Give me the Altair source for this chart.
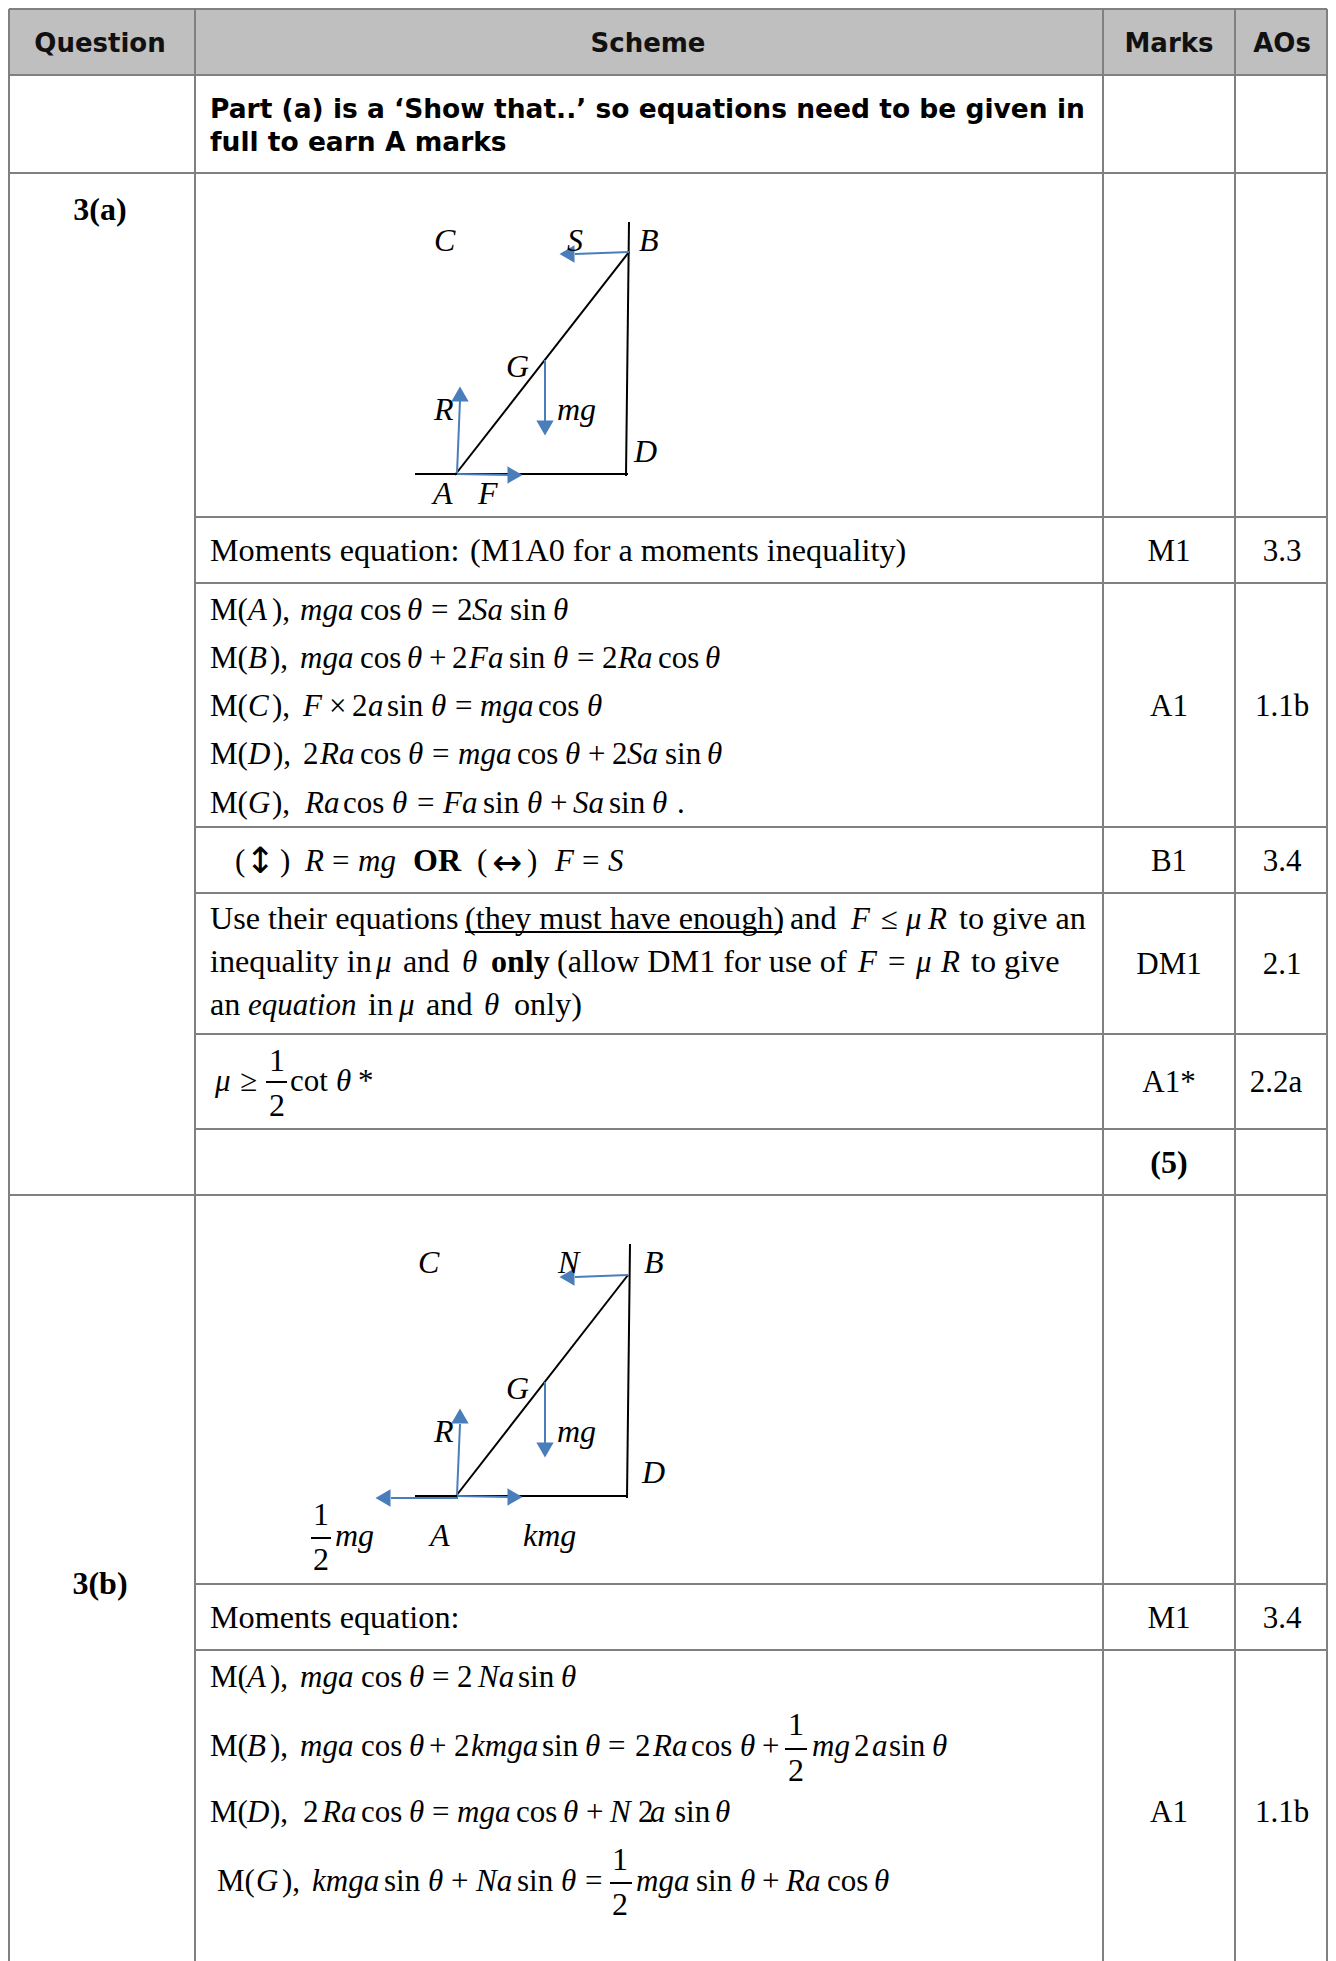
import altair as alt
import pandas as pd

GREY = "#808080"
BLUE = "#4a7ebb"
T = "\u03b8"
MU = "\u03bc"

# table structure (reference pixels)
col_x = [9, 195, 1103, 1235, 1327]
full_rows = [9, 75, 173, 1195]
scheme_rows = [517, 583, 827, 893, 1034, 1129, 1584, 1650]

header_cells = [(100, 52, "Question"), (648, 52, "Scheme"), (1169, 52, "Marks"), (1282, 52, "AOs")]
note_lines = [(210, 118, "Part (a) is a \u2018Show that..\u2019 so equations need to be given in"),
              (210, 151, "full to earn A marks")]

question_labels = [(100, 220, "3(a)"), (100, 1594, "3(b)"), (1169, 1173, "(5)")]
marks_cells = [(1169, 561, "M1"), (1169, 716, "A1"), (1169, 871, "B1"), (1169, 974, "DM1"),
               (1169, 1092, "A1*"), (1169, 1628, "M1"), (1169, 1822, "A1")]
ao_cells = [(1282, 561, "3.3"), (1282, 716, "1.1b"), (1282, 871, "3.4"), (1282, 974, "2.1"),
            (1276, 1092, "2.2a"), (1282, 1628, "3.4"), (1282, 1822, "1.1b")]

prose = [
    (210, 561, "Moments equation:"), (470, 561, "(M1A0 for a moments inequality)"),
    (210, 929, "Use their equations"), (465, 929, "(they must have enough)"), (790, 929, "and"), (959, 929, "to give an"),
    (210, 972, "inequality in"), (403, 972, "and"), (557, 972, "(allow DM1 for use of"), (971, 972, "to give"),
    (210, 1015, "an"), (368, 1015, "in"), (426, 1015, "and"), (514, 1015, "only)"),
    (210, 1628, "Moments equation:"),
]
roman = [
    (210, 620, "M("), (272, 620, "),"), (360, 620, "cos"), (431, 620, "="), (457, 620, "2"), (510, 620, "sin"),
    (210, 668, "M("), (270, 668, "),"), (360, 668, "cos"), (429, 668, "+"), (452, 668, "2"), (509, 668, "sin"),
    (577, 668, "="), (602, 668, "2"), (658, 668, "cos"),
    (210, 716, "M("), (272, 716, "),"), (329, 716, "\u00d7"), (352, 716, "2"), (387, 716, "sin"), (455, 716, "="), (538, 716, "cos"),
    (210, 764, "M("), (273, 764, "),"), (303, 764, "2"), (360, 764, "cos"), (432, 764, "="), (517, 764, "cos"),
    (588, 764, "+"), (612, 764, "2"), (665, 764, "sin"),
    (210, 813, "M("), (272, 813, "),"), (343, 813, "cos"), (417, 813, "="), (483, 813, "sin"), (550, 813, "+"), (609, 813, "sin"), (677, 813, "."),
    (235, 871, "("), (280, 871, ")"), (332, 871, "="), (477, 871, "("), (527, 871, ")"), (582, 871, "="),
    (881, 929, "\u2264"), (888, 972, "="),
    (240, 1091, "\u2265"), (290, 1091, "cot"), (358, 1091, "*"),
    (210, 1687, "M("), (270, 1687, "),"), (361, 1687, "cos"), (432, 1687, "="), (457, 1687, "2"), (518, 1687, "sin"),
    (210, 1756, "M("), (270, 1756, "),"), (361, 1756, "cos"), (429, 1756, "+"), (454, 1756, "2"), (542, 1756, "sin"), (608, 1756, "="),
    (635, 1756, "2"), (691, 1756, "cos"), (762, 1756, "+"), (854, 1756, "2"), (889, 1756, "sin"),
    (210, 1822, "M("), (270, 1822, "),"), (303, 1822, "2"), (361, 1822, "cos"), (432, 1822, "="), (516, 1822, "cos"), (586, 1822, "+"),
    (638, 1822, "2"), (674, 1822, "sin"),
    (217, 1891, "M("), (282, 1891, "),"), (384, 1891, "sin"), (451, 1891, "+"), (517, 1891, "sin"), (585, 1891, "="), (696, 1891, "sin"),
    (762, 1891, "+"), (827, 1891, "cos"),
]
italic = [
    (248, 620, "A"), (300, 620, "mga"), (407, 620, T), (472, 620, "Sa"), (553, 620, T),
    (248, 668, "B"), (300, 668, "mga"), (407, 668, T), (469, 668, "Fa"), (553, 668, T), (618, 668, "Ra"), (705, 668, T),
    (248, 716, "C"), (303, 716, "F"), (368, 716, "a"), (431, 716, T), (480, 716, "mga"), (587, 716, T),
    (248, 764, "D"), (320, 764, "Ra"), (408, 764, T), (458, 764, "mga"), (565, 764, T), (627, 764, "Sa"), (707, 764, T),
    (248, 813, "G"), (305, 813, "Ra"), (392, 813, T), (443, 813, "Fa"), (527, 813, T), (573, 813, "Sa"), (652, 813, T),
    (305, 871, "R"), (358, 871, "mg"), (555, 871, "F"), (608, 871, "S"),
    (851, 929, "F"), (906, 929, MU), (928, 929, "R"),
    (376, 972, MU), (462, 972, T), (858, 972, "F"), (916, 972, MU), (941, 972, "R"),
    (248, 1015, "equation"), (399, 1015, MU), (484, 1015, T),
    (215, 1091, MU), (336, 1091, T),
    (247, 1687, "A"), (300, 1687, "mga"), (409, 1687, T), (478, 1687, "Na"), (561, 1687, T),
    (247, 1756, "B"), (300, 1756, "mga"), (409, 1756, T), (471, 1756, "kmga"), (585, 1756, T), (653, 1756, "Ra"), (740, 1756, T),
    (812, 1756, "mg"), (872, 1756, "a"), (932, 1756, T),
    (247, 1822, "D"), (322, 1822, "Ra"), (409, 1822, T), (457, 1822, "mga"), (563, 1822, T), (610, 1822, "N"), (650, 1822, "a"), (715, 1822, T),
    (256, 1891, "G"), (312, 1891, "kmga"), (428, 1891, T), (476, 1891, "Na"), (561, 1891, T), (636, 1891, "mga"), (740, 1891, T), (786, 1891, "Ra"), (874, 1891, T),
]
diagram_labels = [
    (434, 251, "C"), (567, 251, "S"), (639, 251, "B"), (506, 377, "G"), (434, 420, "R"), (557, 420, "mg"), (634, 462, "D"), (433, 504, "A"), (478, 504, "F"),
    (418, 1273, "C"), (558, 1273, "N"), (644, 1273, "B"), (506, 1399, "G"), (434, 1442, "R"), (557, 1442, "mg"), (642, 1483, "D"), (430, 1546, "A"), (523, 1546, "kmg"), (335, 1546, "mg"),
]
arrow_glyphs = [(260, 873, "\u2195"), (507, 875, "\u2194")]
bold_left = [(413, 871, "OR"), (491, 972, "only")]
fraction_digits = [(277, 1071, "1"), (277, 1116, "2"), (321, 1525, "1"), (321, 1570, "2"),
                   (796, 1735, "1"), (796, 1781, "2"), (620, 1870, "1"), (620, 1915, "2")]
# x, x2, y, y2
black_thin = [(629, 626, 222, 476), (415, 628, 474, 474), (455, 629, 475, 252),
              (630, 627, 1244, 1498), (415, 627, 1496, 1496), (456, 628, 1496, 1275),
              (266, 287, 1082, 1082), (311, 331, 1538, 1538), (785, 807, 1749, 1749), (610, 632, 1883, 1883),
              (465, 782, 932, 932)]
blue_shafts = [(629, 575, 252, 254), (457, 460, 473, 400), (457, 509, 474, 475), (545, 545, 360, 421),
               (628, 575, 1275, 1277), (457, 460, 1495, 1424), (457, 508, 1496, 1497), (545, 545, 1382, 1443), (458, 391, 1498, 1498)]
# head centre x, y, angle
blue_heads = [(567, 254, 270), (460, 394, 0), (515, 475, 90), (545, 428, 180),
              (567, 1277, 270), (460, 1416, 0), (515, 1497, 90), (545, 1450, 180), (383, 1498, 270)]


def frame(rows):
    return pd.DataFrame(rows, columns=["x", "y", "t"])


X = alt.X("x:Q", scale=alt.Scale(domain=[8, 1328], range=[0, 1320], nice=False, zero=False), axis=None)
Y = alt.Y("y:Q", scale=alt.Scale(domain=[8, 1961], range=[0, 1953], nice=False, zero=False), axis=None)
X2 = alt.X2("x2:Q")
Y2 = alt.Y2("y2:Q")


def text_layer(rows, **kw):
    base = dict(baseline="alphabetic", align="left", font="Liberation Serif", fontSize=31, color="black")
    base.update(kw)
    return alt.Chart(frame(rows)).mark_text(**base).encode(x=X, y=Y, text="t:N")


def rules(rows, color, width):
    df = pd.DataFrame(rows, columns=["x", "x2", "y", "y2"])
    return alt.Chart(df).mark_rule(color=color, strokeWidth=width).encode(x=X, x2=X2, y=Y, y2=Y2)


header_band = alt.Chart(pd.DataFrame([{"x": col_x[0], "x2": col_x[-1], "y": 9, "y2": 75}])).mark_rect(
    color="#bfbfbf").encode(x=X, x2=X2, y=Y, y2=Y2)

grid_rows = [(x, x, 9, 1961) for x in col_x]
grid_rows += [(col_x[0], col_x[-1], y, y) for y in full_rows]
grid_rows += [(col_x[1], col_x[-1], y, y) for y in scheme_rows]

heads = alt.Chart(pd.DataFrame(blue_heads, columns=["x", "y", "a"])).mark_point(
    shape="triangle-up", filled=True, opacity=1, color=BLUE, size=300
).encode(x=X, y=Y, angle=alt.Angle("a:Q", scale=None))

chart = alt.layer(
    header_band,
    rules(grid_rows, GREY, 2),
    rules(black_thin, "black", 2),
    rules(blue_shafts, BLUE, 2),
    heads,
    text_layer(header_cells, font="DejaVu Sans", fontWeight="bold", fontSize=26, align="center", color="#111111"),
    text_layer(note_lines, font="DejaVu Sans", fontWeight="bold", fontSize=26.5),
    text_layer(question_labels, fontWeight="bold", align="center", fontSize=32),
    text_layer(marks_cells, align="center"),
    text_layer(ao_cells, align="center"),
    text_layer(prose, fontSize=32.2),
    text_layer(roman),
    text_layer(italic, fontStyle="italic"),
    text_layer(diagram_labels, fontStyle="italic", fontSize=32),
    text_layer(arrow_glyphs, font="DejaVu Sans", fontSize=36, align="center"),
    text_layer(bold_left, fontWeight="bold", fontSize=32),
    text_layer(fraction_digits, align="center", fontSize=32),
).properties(width=1320, height=1953, padding=0, autosize=alt.AutoSizeParams(type="none")).configure_view(stroke=None)

chart.save("out.html", embed_options={"renderer": "svg", "actions": False})
